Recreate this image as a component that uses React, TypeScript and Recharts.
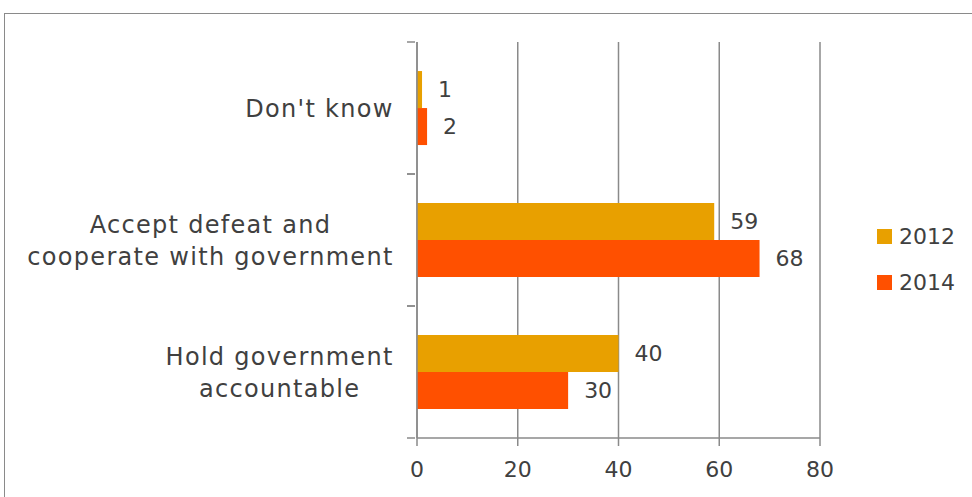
import React from 'react';
import { BarChart, Bar, XAxis, YAxis, CartesianGrid, Legend, LabelList } from 'recharts';

const categories = ["Don't know", 'Accept defeat and\ncooperate with government', 'Hold government\naccountable'];
const values2012 = [1, 59, 40];
const values2014 = [2, 68, 30];
const xTicks = [0, 20, 40, 60, 80];
const seriesNames = ['2012', '2014'];

const data = categories.map((c, i) => ({ name: c, v2012: values2012[i], v2014: values2014[i] }));

const FONT = '"DejaVu Sans", sans-serif';
const FONT_SIZE = 22;
const LABEL_SIZE = 24;
const LABEL_LS = 1.3;
const TEXT = '#404040';
const AXIS = '#8a8a8a';
const C2012 = '#E8A000';
const C2014 = '#FF5000';

let ctx: CanvasRenderingContext2D | null = null;
function measure(t: string) {
  if (!ctx) {
    const c = document.createElement('canvas');
    ctx = c.getContext('2d');
  }
  if (!ctx) return t.length * 14;
  ctx.font = `${LABEL_SIZE}px ${FONT}`;
  return ctx.measureText(t).width + (t.length - 1) * LABEL_LS;
}

const CategoryTick = (props: any) => {
  const { x, y, payload } = props;
  const lines = String(payload.value).split('\n');
  const widest = Math.max(...lines.map(measure));
  const cx = x - 14 - widest / 2;
  const lh = 32;
  const off = payload.offset || 66;
  const axisX = x + 8;
  return (
    <g>
      <line x1={axisX - 8} x2={axisX} y1={y - off} y2={y - off} stroke={AXIS} strokeWidth={1.5} />
      <line x1={axisX - 8} x2={axisX} y1={y + off} y2={y + off} stroke={AXIS} strokeWidth={1.5} />
      <text x={cx} y={y} textAnchor="middle" fill={TEXT} fontSize={LABEL_SIZE} fontFamily={FONT} letterSpacing={LABEL_LS}>
        {lines.map((l, i) => (
          <tspan key={i} x={cx} y={y + 1 + (i - (lines.length - 1) / 2) * lh} dy="0.35em">{l}</tspan>
        ))}
      </text>
    </g>
  );
};

const LegendContent = () => (
  <div style={{ fontFamily: FONT, fontSize: FONT_SIZE, color: TEXT }}>
    {seriesNames.map((n, i) => (
      <div key={n} style={{ display: 'flex', alignItems: 'center', height: 46 }}>
        <span style={{ display: 'inline-block', width: 15, height: 15, background: i === 0 ? C2012 : C2014, marginRight: 7 }} />
        <span>{n}</span>
      </div>
    ))}
  </div>
);

export default function App() {
  return (
    <div style={{ position: 'absolute', left: 0, top: 0, width: 972, height: 497, background: '#fff' }}>
      <div style={{ position: 'absolute', left: 4, top: 13, right: 0, bottom: 0, borderTop: `1.5px solid ${AXIS}`, borderLeft: `1.5px solid ${AXIS}` }} />
      <BarChart
        width={972}
        height={497}
        data={data}
        layout="vertical"
        margin={{ top: 42, right: 152, bottom: 0, left: 0 }}
        barCategoryGap="22%"
        barGap={0}
        style={{ position: 'absolute', left: 0, top: 0 }}
      >
        <CartesianGrid horizontal={false} vertical={true} stroke={AXIS} strokeWidth={1.5} />
        <XAxis
          type="number"
          domain={[0, 80]}
          ticks={xTicks}
          height={59}
          axisLine={{ stroke: AXIS, strokeWidth: 1.5 }}
          tickLine={{ stroke: AXIS, strokeWidth: 1.5 }}
          tickSize={8}
          tickMargin={15}
          tick={{ fill: TEXT, fontSize: FONT_SIZE, fontFamily: FONT }}
        />
        <YAxis
          type="category"
          dataKey="name"
          width={417}
          axisLine={{ stroke: AXIS, strokeWidth: 1.5 }}
          tickLine={false}
          tickSize={8}
          tick={<CategoryTick />}
          interval={0}
        />
        <Legend
          layout="vertical"
          align="center"
          verticalAlign="middle"
          content={<LegendContent />}
          wrapperStyle={{ left: 877, top: 213, width: 95 }}
        />
        <Bar dataKey="v2012" name="2012" fill={C2012} isAnimationActive={false}>
          <LabelList dataKey="v2012" position="right" offset={16} fill={TEXT} fontSize={FONT_SIZE} fontFamily={FONT} />
        </Bar>
        <Bar dataKey="v2014" name="2014" fill={C2014} isAnimationActive={false}>
          <LabelList dataKey="v2014" position="right" offset={16} fill={TEXT} fontSize={FONT_SIZE} fontFamily={FONT} />
        </Bar>
      </BarChart>
    </div>
  );
}
